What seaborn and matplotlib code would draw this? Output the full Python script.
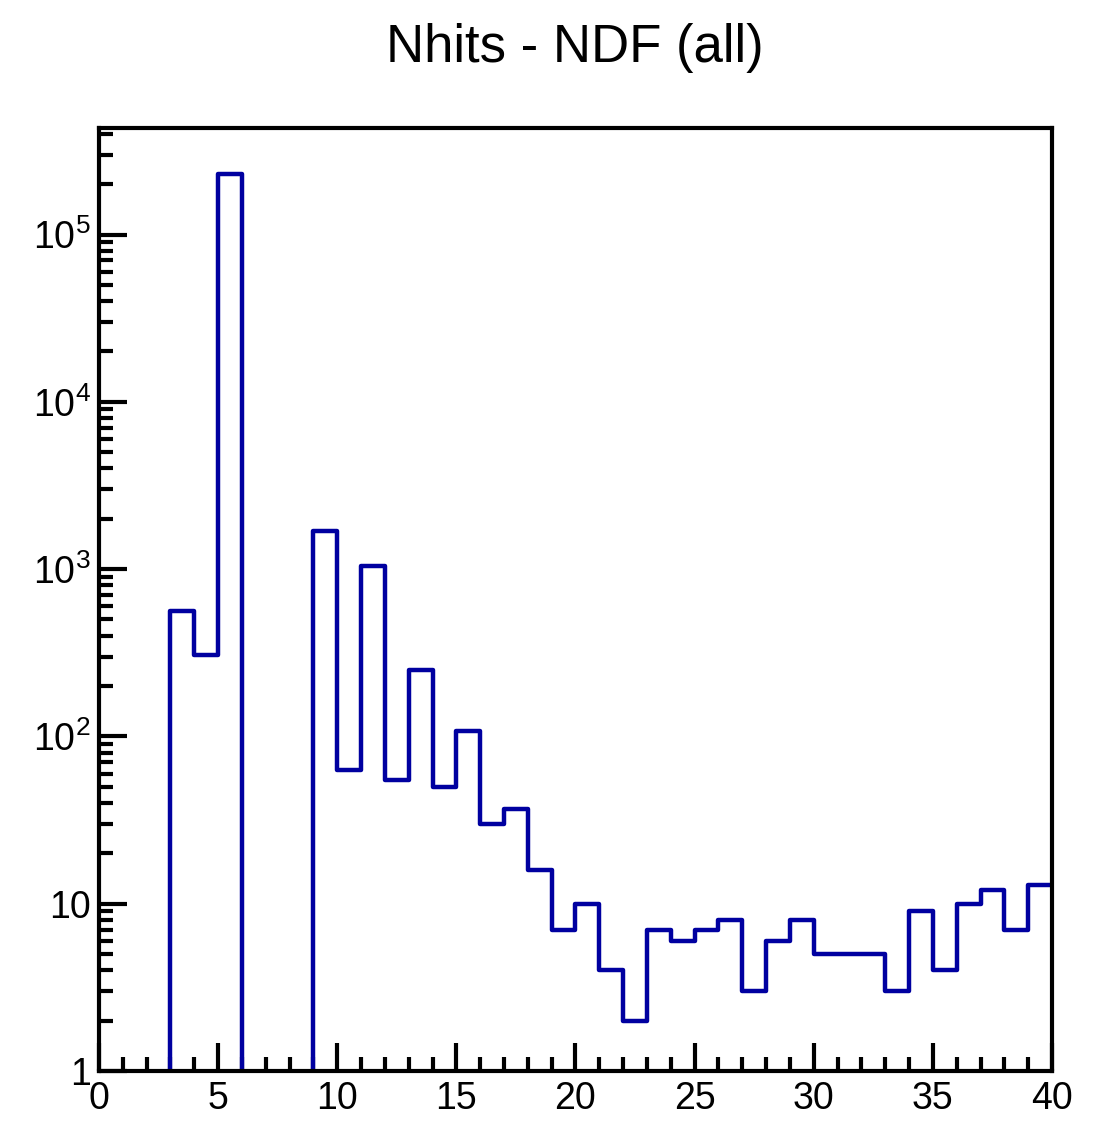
import numpy as np
import matplotlib
matplotlib.use("Agg")
import matplotlib.pyplot as plt
import seaborn as sns
from matplotlib.ticker import MultipleLocator, LogLocator, FixedLocator, FixedFormatter

# Nhits - NDF histogram, unit bins from 0 to 40
bin_edges = list(range(0, 41))
counts = [0, 0, 0, 563, 308, 230000, 0, 0, 0, 1700,
          63, 1040, 55, 250, 50, 108, 30, 37, 16, 7,
          10, 4, 2, 7, 6, 7, 8, 3, 6, 8,
          5, 5, 5, 3, 9, 4, 10, 12, 7, 13]
y_ticks = [1, 10, 100, 1000, 10000, 100000]
y_tick_labels = ["1", "10", r"$10^{2}$", r"$10^{3}$", r"$10^{4}$", r"$10^{5}$"]
x_tick_values = [0, 5, 10, 15, 20, 25, 30, 35, 40]

sns.set_theme(style="ticks")
plt.rcParams["font.family"] = ["Liberation Sans", "DejaVu Sans"]
plt.rcParams["mathtext.fontset"] = "custom"
plt.rcParams["mathtext.rm"] = "Liberation Sans"
plt.rcParams["mathtext.it"] = "Liberation Sans"

fig = plt.figure(figsize=(11.01, 11.39), dpi=100)
ax = fig.add_axes([0.0899, 0.0597, 0.8656, 0.8279])

centers = [e + 0.5 for e in bin_edges[:-1]]
ax.set_yscale("log")
sns.histplot(x=centers, weights=counts, bins=bin_edges, element="step",
             fill=False, color="#0000a0", linewidth=3.2, ax=ax)

ax.set_xlim(0, 40)
ax.set_ylim(1, 4.33e5)

ax.xaxis.set_major_locator(FixedLocator(x_tick_values))
ax.xaxis.set_minor_locator(MultipleLocator(1))
ax.set_xticklabels([str(v) for v in x_tick_values])
ax.yaxis.set_major_locator(FixedLocator(y_ticks))
ax.yaxis.set_major_formatter(FixedFormatter(y_tick_labels))
ax.yaxis.set_minor_locator(LogLocator(base=10, subs=np.arange(2, 10), numticks=20))

ax.tick_params(axis="both", which="major", direction="in", length=20, width=3,
               labelsize=27, color="black", labelcolor="black")
ax.tick_params(axis="both", which="minor", direction="in", length=10, width=3,
               color="black")
ax.tick_params(axis="x", which="major", pad=7)
ax.tick_params(axis="y", which="major", pad=6)
ax.tick_params(top=False, right=False, which="both")

for side in ["left", "right", "top", "bottom"]:
    ax.spines[side].set_visible(True)
    ax.spines[side].set_linewidth(3)
    ax.spines[side].set_color("black")

ax.set_xlabel("")
ax.set_ylabel("")
ax.grid(False)

fig.text(0.522, 0.958, "Nhits - NDF (all)", ha="center", va="center",
         fontsize=38, color="black")

fig.savefig("out.png", dpi=100, facecolor="white")
